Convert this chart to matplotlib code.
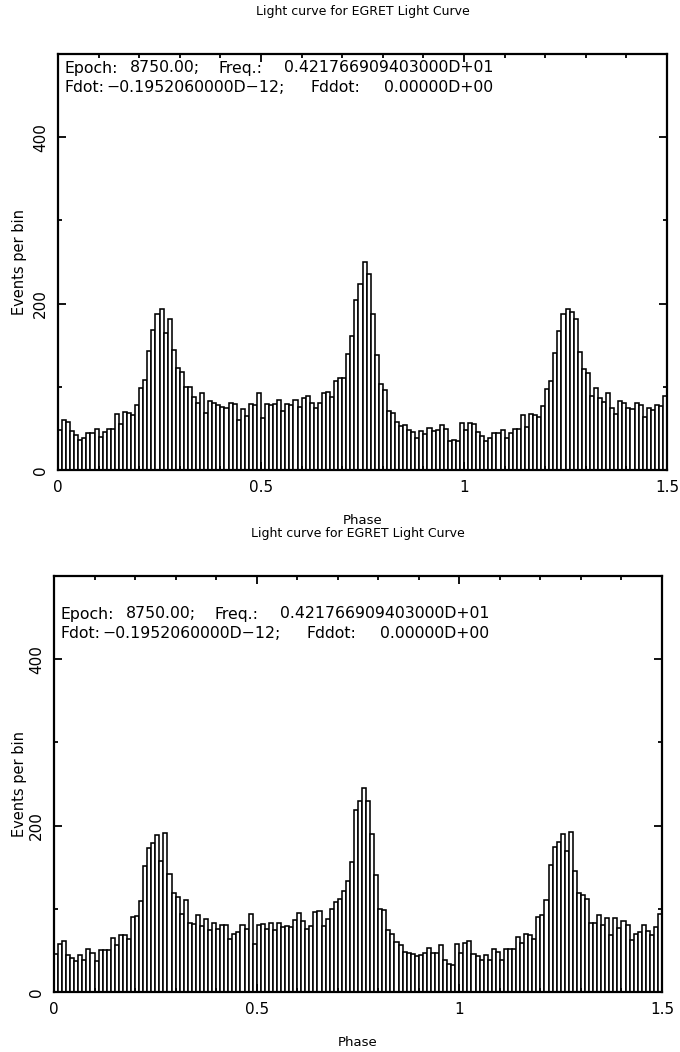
import numpy as np
import matplotlib
matplotlib.use("Agg")
import matplotlib.pyplot as plt
from matplotlib.ticker import MultipleLocator

plt.rcParams['font.family'] = ['DejaVu Sans']

# binned light curve, 0.01 phase per bin, phase 0 - 1.5
bin_width = 0.01
top_counts = [48, 60, 58, 47, 42, 36, 39, 45, 45, 49,
              40, 46, 49, 49, 67, 55, 70, 69, 66, 78,
              99, 108, 143, 168, 188, 194, 165, 182, 144, 123,
              118, 100, 100, 88, 81, 93, 68, 83, 80, 78,
              76, 74, 81, 79, 60, 73, 65, 79, 78, 92,
              62, 79, 78, 79, 84, 71, 79, 78, 84, 76,
              87, 89, 81, 75, 80, 92, 94, 88, 107, 111,
              110, 139, 161, 204, 224, 250, 236, 188, 138, 103,
              96, 71, 68, 58, 53, 54, 48, 46, 39, 47,
              43, 50, 47, 48, 54, 49, 35, 36, 35, 56,
              48, 57, 55, 46, 41, 35, 38, 44, 44, 48,
              38, 45, 49, 49, 66, 52, 67, 66, 64, 77,
              97, 107, 141, 167, 187, 193, 190, 182, 142, 121,
              116, 89, 99, 86, 82, 92, 74, 67, 83, 80,
              74, 73, 80, 78, 64, 75, 72, 78, 77, 89]

bottom_counts = [46, 58, 61, 45, 41, 37, 44, 39, 52, 47,
                 37, 51, 51, 51, 65, 57, 69, 68, 64, 90,
                 91, 109, 151, 173, 179, 189, 158, 191, 142, 119,
                 114, 94, 111, 83, 82, 92, 79, 88, 74, 83,
                 76, 80, 80, 64, 70, 72, 81, 76, 94, 58,
                 81, 82, 76, 83, 75, 83, 78, 79, 78, 86,
                 95, 85, 76, 79, 96, 97, 79, 88, 100, 108,
                 112, 121, 133, 156, 219, 229, 245, 230, 190, 141,
                 100, 99, 75, 70, 60, 57, 48, 47, 46, 43,
                 45, 47, 53, 47, 47, 57, 39, 34, 32, 58,
                 47, 59, 61, 46, 43, 38, 45, 39, 52, 48,
                 38, 52, 52, 52, 66, 59, 70, 69, 64, 90,
                 92, 110, 153, 174, 180, 190, 169, 192, 145, 119,
                 116, 112, 83, 83, 92, 80, 89, 69, 89, 77,
                 85, 81, 63, 70, 72, 81, 73, 68, 78, 94]

xticks = [0, 0.5, 1, 1.5]
xtick_labels = ["0", "0.5", "1", "1.5"]
yticks = [0, 200, 400]
ytick_labels = ["0", "200", "400"]

title = "Light curve for EGRET Light Curve"
# header pieces and their offsets from the left axis (px)
epoch_txt = ["Epoch:", "8750.00;", "Freq.:", "0.421766909403000D+01"]
epoch_dx = [6, 72, 160, 226]
fdot_txt = ["Fdot:", "\u22120.1952060000D\u221212;", "Fddot:", "0.00000D+00"]
fdot_dx = [6, 48, 252, 326]

W, H = 680, 1052
fig = plt.figure(figsize=(W / 100, H / 100), dpi=100)


def px(x, y):
    return x / W, 1 - y / H


def panel(counts, left, right, top, bottom, text_y):
    ax = fig.add_axes([left / W, 1 - bottom / H, (right - left) / W, (bottom - top) / H])
    phase = np.arange(len(counts)) * bin_width
    ax.bar(phase, counts, width=bin_width, align="edge", facecolor="white",
           edgecolor="black", linewidth=1.15)
    ax.set_xlim(0, 1.5)
    ax.set_ylim(0, 500)
    ax.set_xticks(xticks)
    ax.set_xticklabels(xtick_labels, fontsize=11)
    ax.set_yticks(yticks)
    ax.set_yticklabels(ytick_labels, fontsize=11, rotation=90, va="center")
    ax.xaxis.set_minor_locator(MultipleLocator(0.1))
    ax.yaxis.set_minor_locator(MultipleLocator(100))
    ax.tick_params(which="both", direction="in", top=True, right=True, width=1.3)
    ax.tick_params(which="major", length=6, pad=7)
    ax.tick_params(which="minor", length=3)
    for s in ax.spines.values():
        s.set_linewidth(1.6)
    # header text
    cx = (left + right) / 2
    fig.text(*px(cx, top - 42), title, fontsize=9, ha="center", va="center")
    fig.text(*px(cx, bottom + 50), "Phase", fontsize=9.5, ha="center", va="center")
    fig.text(*px(20, (top + bottom) / 2), "Events per bin", fontsize=10.5,
             rotation=90, ha="center", va="center")
    for dx, t in zip(epoch_dx, epoch_txt):
        fig.text(*px(left + dx, text_y), t, fontsize=11.3, ha="left", va="center")
    for dx, t in zip(fdot_dx, fdot_txt):
        fig.text(*px(left + dx, text_y + 20), t, fontsize=11.3, ha="left", va="center")
    return ax


panel(top_counts, 58, 667, 54, 470, 68)
panel(bottom_counts, 54, 662, 576, 992, 614)

fig.savefig("out.png", dpi=100)
